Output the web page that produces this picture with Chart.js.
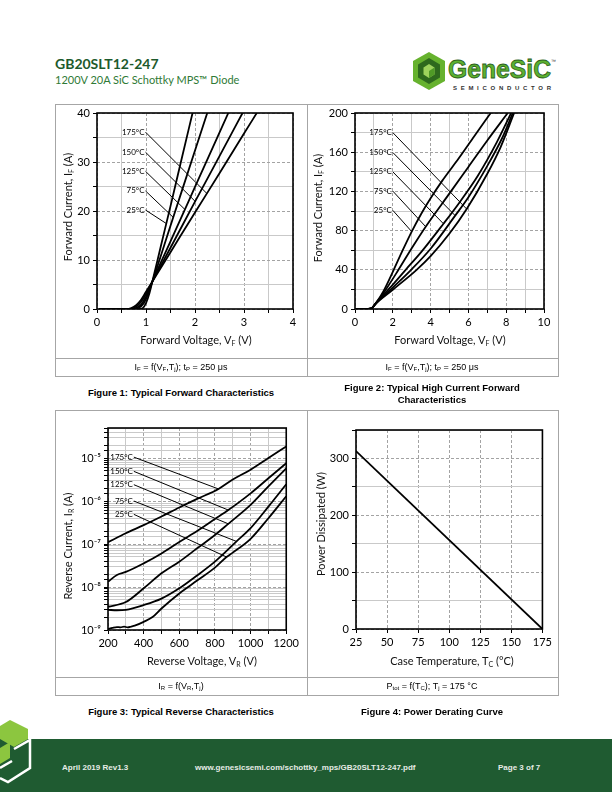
<!DOCTYPE html>
<html><head><meta charset="utf-8">
<script src="https://cdn.jsdelivr.net/npm/chart.js@4.4.1/dist/chart.umd.min.js"></script>
<style>
body{margin:0;width:612px;height:792px;position:relative;background:#fff;overflow:hidden;font-family:Lato,sans-serif}
canvas{position:absolute}
.ln{position:absolute;background:#a6a6a6}
.ax{position:absolute;font-family:Lato,sans-serif;font-size:11px;color:#111;white-space:nowrap;transform:translate(-50%,-50%)}
.rot{transform:translate(-50%,-50%) rotate(-90deg)}
.ax sub{font-size:7px;vertical-align:-2px}
.cap{position:absolute;font-family:"Liberation Sans",Arial,sans-serif;font-size:9.5px;font-weight:bold;text-align:center;transform:translateX(-50%);white-space:nowrap;line-height:12px;color:#000}
.fn{position:absolute;font-family:"Liberation Sans",Arial,sans-serif;font-size:9px;transform:translate(-50%,-50%);white-space:nowrap;color:#000}
.fn sub{font-size:6px;vertical-align:-1px}
.ft{position:absolute;font-family:"Liberation Sans",Arial,sans-serif;font-size:8px;font-weight:bold;color:#e6ece6;top:763px;white-space:nowrap}
</style></head><body>

<div style="position:absolute;left:55px;top:55px;font-family:Lato;font-weight:bold;font-size:14px;color:#1d5a2c">GB20SLT12-247</div>
<div style="position:absolute;left:55px;top:73px;font-family:Lato;font-size:11px;color:#2f7a36">1200V 20A SiC Schottky MPS™ Diode</div>

<svg style="position:absolute;left:412px;top:51px" width="148" height="42" viewBox="0 0 148 42">
  <polygon points="17,1 33,10 33,30 17,39 1,30 1,10" fill="#66b22e"/>
  <polygon points="17,7 28,13.5 28,26.5 17,33 6,26.5 6,13.5" fill="#2e6a1d"/>
  <polygon points="17,13 22.5,16.5 22.5,23.5 17,27 11.5,23.5 11.5,16.5" fill="#9dd35c"/>
  <polygon points="17,20 22.5,16.5 22.5,23.5 17,27" fill="#4f9a26"/>
  <text x="36" y="27" font-family="Liberation Sans" font-weight="bold" font-size="25" fill="#5cb130" stroke="#2b5f1d" stroke-width="0.8" textLength="103" lengthAdjust="spacingAndGlyphs">GeneSiC</text>
  <text x="139" y="12" font-family="Liberation Sans" font-size="5" fill="#333">™</text>
  <text x="41" y="39" font-family="Liberation Sans" font-weight="bold" font-size="6" fill="#333" textLength="98" lengthAdjust="spacing">SEMICONDUCTOR</text>
</svg>

<!-- table 1 -->
<div class="ln" style="left:55px;top:104px;width:503px;height:1px"></div>
<div class="ln" style="left:55px;top:358px;width:503px;height:1px"></div>
<div class="ln" style="left:55px;top:376px;width:503px;height:1px"></div>
<div class="ln" style="left:55px;top:104px;width:1px;height:273px"></div>
<div class="ln" style="left:307px;top:104px;width:1px;height:273px"></div>
<div class="ln" style="left:558px;top:104px;width:1px;height:273px"></div>
<!-- table 2 -->
<div class="ln" style="left:55px;top:410px;width:503px;height:1px"></div>
<div class="ln" style="left:55px;top:677px;width:503px;height:1px"></div>
<div class="ln" style="left:55px;top:695px;width:503px;height:1px"></div>
<div class="ln" style="left:55px;top:410px;width:1px;height:286px"></div>
<div class="ln" style="left:307px;top:410px;width:1px;height:286px"></div>
<div class="ln" style="left:558px;top:410px;width:1px;height:286px"></div>

<canvas id="c1"></canvas>
<canvas id="c2"></canvas>
<canvas id="c3"></canvas>
<canvas id="c4"></canvas>

<div class="ax" style="left:196px;top:340px">Forward Voltage, V<sub>F</sub> (V)</div>
<div class="ax rot" style="left:68px;top:207px">Forward Current, I<sub>F</sub> (A)</div>
<div class="ax" style="left:450px;top:340px">Forward Voltage, V<sub>F</sub> (V)</div>
<div class="ax rot" style="left:318px;top:208px">Forward Current, I<sub>F</sub> (A)</div>
<div class="ax" style="left:202px;top:661px">Reverse Voltage, V<sub>R</sub> (V)</div>
<div class="ax rot" style="left:68px;top:546px">Reverse Current, I<sub>R</sub> (A)</div>
<div class="ax" style="left:452px;top:661px">Case Temperature, T<sub>C</sub> (°C)</div>
<div class="ax rot" style="left:320px;top:524px">Power Dissipated (W)</div>

<div class="fn" style="left:181px;top:367px">I<sub>F</sub> = f(V<sub>F</sub>,T<sub>j</sub>); t<sub>P</sub> = 250 μs</div>
<div class="fn" style="left:432px;top:367px">I<sub>F</sub> = f(V<sub>F</sub>,T<sub>j</sub>); t<sub>P</sub> = 250 μs</div>
<div class="fn" style="left:181px;top:686px">I<sub>R</sub> = f(V<sub>R</sub>,T<sub>j</sub>)</div>
<div class="fn" style="left:432px;top:686px">P<sub>tot</sub> = f(T<sub>C</sub>); T<sub>j</sub> = 175 °C</div>

<div class="cap" style="left:181px;top:387px">Figure 1: Typical Forward Characteristics</div>
<div class="cap" style="left:432px;top:382px">Figure 2: Typical High Current Forward<br>Characteristics</div>
<div class="cap" style="left:181px;top:706px">Figure 3: Typical Reverse Characteristics</div>
<div class="cap" style="left:432px;top:706px">Figure 4: Power Derating Curve</div>

<div style="position:absolute;left:0;top:739px;width:612px;height:53px;background:#1f5b31"></div>
<svg style="position:absolute;left:0;top:712px" width="40" height="80">
  <polygon points="0,14 10,8 28,17 28,27 14,35 0,27" fill="#8cc63f"/>
  <polygon points="0,36 10,30 10,46 0,52" fill="#8cc63f"/>
  <polyline points="14,37 30,28 30,56 8,70 0,66" fill="none" stroke="#ffffff" stroke-width="2.5"/>
  <polyline points="0,56 12,49" fill="none" stroke="#ffffff" stroke-width="2.5"/>
</svg>
<div class="ft" style="left:62px">April 2019 Rev1.3</div>
<div class="ft" style="left:195px">www.genesicsemi.com/schottky_mps/GB20SLT12-247.pdf</div>
<div class="ft" style="left:498px">Page 3 of 7</div>

<script>
// ---------- Figure 1 data: forward voltage (V) / forward current (A) ----------
const f1_V25  = [0.05, 0.85, 0.93, 1.0, 1.07, 1.13, 1.3, 1.5, 1.7, 1.95];
const f1_I25  = [0, 0, 0.15, 1.2, 3.2, 5.6, 12.7, 21, 29.5, 40];
const f1_V75  = [0.05, 0.75, 0.85, 0.95, 1.05, 1.13, 1.5, 1.8, 2.25];
const f1_I75  = [0, 0, 0.2, 1.1, 3.3, 5.6, 17, 26.2, 40];
const f1_V125 = [0.05, 0.7, 0.8, 0.9, 1.0, 1.13, 1.5, 2.0, 2.68];
const f1_I125 = [0, 0, 0.2, 0.9, 2.5, 5.6, 13.8, 24.9, 40];
const f1_V150 = [0.05, 0.65, 0.75, 0.85, 0.95, 1.05, 1.13, 1.5, 2.0, 2.5, 2.97];
const f1_I150 = [0, 0, 0.2, 0.9, 2.2, 4.0, 5.6, 12.5, 21.9, 31.2, 40];
const f1_V175 = [0.05, 0.6, 0.7, 0.8, 0.9, 1.0, 1.13, 1.5, 2.0, 2.5, 3.0, 3.26];
const f1_I175 = [0, 0, 0.2, 0.8, 1.9, 3.5, 5.6, 11.6, 19.7, 27.7, 35.8, 40];
const tempLabels = ['175°C', '150°C', '125°C', '75°C', '25°C'];
const f1_leadV0 = [0.99, 0.99, 0.99, 0.99, 0.99];
const f1_leadI0 = [36.1, 32.0, 28.1, 24.1, 20.2];
const f1_leadV1 = [2.24, 2.0, 1.795, 1.556, 1.406];
const f1_leadI1 = [23.6, 22.0, 20.3, 18.7, 17.5];
const f1_xTicks = [0, 1, 2, 3, 4];
const f1_yTicks = [0, 10, 20, 30, 40];

// ---------- Figure 2 data ----------
const f2_V25  = [0.05, 0.7, 0.9, 1.06, 1.5, 2.05, 2.5, 3, 3.5, 4, 4.62, 5.5, 6.3, 7.18];
const f2_I25  = [0, 0, 1, 4.7, 18, 40, 59, 79, 97, 113, 131, 154, 176, 200];
const f2_V75  = [0.05, 0.7, 0.9, 1.06, 1.5, 2.3, 3, 3.74, 5, 6, 7, 8.08];
const f2_I75  = [0, 0, 1, 4.7, 16, 40, 62, 84, 118, 145, 172, 200];
const f2_V125 = [0.05, 0.7, 0.9, 1.06, 2, 2.68, 3.5, 4.68, 5.5, 6.5, 7.5, 8.26];
const f2_I125 = [0, 0, 1, 4.7, 24.9, 40, 58, 87, 108, 136, 170, 200];
const f2_V150 = [0.05, 0.7, 0.9, 1.06, 2, 2.97, 4, 5.3, 6, 7, 7.8, 8.35];
const f2_I150 = [0, 0, 1, 4.7, 21.9, 40, 61.5, 95.3, 114, 146, 175, 200];
const f2_V175 = [0.05, 0.7, 0.9, 1.06, 2, 3.26, 4, 5, 5.91, 7, 7.7, 8.42];
const f2_I175 = [0, 0, 1, 4.7, 19.7, 40, 54, 77, 102, 138, 165, 200];
const f2_leadV0 = [2, 2, 2, 2, 2];
const f2_leadI0 = [180, 159.7, 140, 120.3, 100.7];
const f2_leadV1 = [5.91, 5.3, 4.68, 3.74, 3.0];
const f2_leadI1 = [102, 95.3, 87, 84, 79];
const f2_xTicks = [0, 2, 4, 6, 8, 10];
const f2_yTicks = [0, 40, 80, 120, 160, 200];

// ---------- Figure 3 data: reverse voltage (V) / reverse current (A) ----------
const f3_V175 = [200, 300, 400, 500, 600, 700, 820, 900, 1000, 1100, 1200];
const f3_I175 = [1.10e-7, 1.78e-7, 2.75e-7, 4.37e-7, 7.08e-7, 1.12e-6, 1.91e-6, 3.16e-6, 5.37e-6, 1.0e-5, 1.86e-5];
const f3_V150 = [200, 250, 300, 400, 500, 600, 700, 800, 875, 1000, 1100, 1200];
const f3_I150 = [1.32e-8, 1.91e-8, 2.24e-8, 3.55e-8, 6.03e-8, 1.12e-7, 2.0e-7, 3.80e-7, 6.17e-7, 1.51e-6, 3.39e-6, 7.59e-6];
const f3_V125 = [200, 300, 400, 500, 600, 700, 800, 875, 1000, 1100, 1200];
const f3_I125 = [3.47e-9, 4.47e-9, 9.33e-9, 2.09e-8, 3.89e-8, 7.94e-8, 1.62e-7, 2.95e-7, 8.13e-7, 2.19e-6, 5.75e-6];
const f3_V75  = [200, 250, 300, 400, 500, 600, 700, 800, 921, 1000, 1100, 1200];
const f3_I75  = [2.95e-9, 2.88e-9, 2.95e-9, 3.80e-9, 5.37e-9, 9.33e-9, 1.86e-8, 3.89e-8, 1.15e-7, 2.34e-7, 7.41e-7, 2.45e-6];
const f3_V25  = [200, 225, 250, 270, 290, 310, 330, 350, 400, 450, 500, 600, 700, 800, 865, 900, 1000, 1100, 1200];
const f3_I25  = [1.05e-9, 1.12e-9, 1.17e-9, 1.15e-9, 1.20e-9, 1.15e-9, 1.20e-9, 1.26e-9, 1.55e-9, 2.0e-9, 3.16e-9, 7.08e-9, 1.41e-8, 2.82e-8, 5.01e-8, 6.31e-8, 1.32e-7, 3.98e-7, 1.29e-6];
const f3_leadV0 = [345, 345, 345, 345, 345];
const f3_leadI0 = [1.05e-5, 4.9e-6, 2.4e-6, 1.0e-6, 4.9e-7];
const f3_leadV1 = [820, 875, 875, 921, 865];
const f3_leadI1 = [1.91e-6, 6.17e-7, 2.95e-7, 1.15e-7, 5.0e-8];
const f3_xTicks = [200, 400, 600, 800, 1000, 1200];

// ---------- Figure 4 data: case temperature (°C) / power (W) ----------
const f4_T = [25, 175];
const f4_P = [313, 0];
const f4_xTicks = [25, 50, 75, 100, 125, 150, 175];
const f4_yTicks = [0, 100, 200, 300];

// ---------- helpers ----------
const FONT = {family: 'Lato', size: 11};
const pts = (xs, ys) => xs.map((x, i) => ({x: x, y: ys[i]}));
const curve = (xs, ys) => ({data: pts(xs, ys), borderColor: '#000', borderWidth: 1.8, pointRadius: 0,
  showLine: true, cubicInterpolationMode: 'monotone', fill: false});
const leaders = (v0, i0, v1, i1) => v0.map((v, k) => ({data: [{x: v, y: i0[k]}, {x: v1[k], y: i1[k]}],
  borderColor: '#000', borderWidth: 1, pointRadius: 0, showLine: true, tension: 0, fill: false}));
const near = (a, b) => Math.abs(a - b) < 1e-9 * Math.max(1, Math.abs(b));
const inList = (list) => (v) => list.some(t => near(v, t));
const SUP = {'-': '⁻', '0': '⁰', '1': '¹', '2': '²', '3': '³', '4': '⁴', '5': '⁵', '6': '⁶', '7': '⁷', '8': '⁸', '9': '⁹'};
const isDecade = (v) => { const l = Math.log10(v); return Math.abs(l - Math.round(l)) < 1e-6; };

function scale(type, min, max, step, isMajor, labelFn, dashAll) {
  const major = (c) => c.tick && (dashAll || isMajor(c.tick.value));
  return {
    type: type, min: min, max: max,
    ticks: {stepSize: step, autoSkip: false, maxRotation: 0, minRotation: 0, padding: 3, color: '#000',
      font: FONT, callback: (v) => labelFn(v)},
    grid: {color: (c) => major(c) ? '#a3a3a3' : '#c9c9c9', lineWidth: 1, tickColor: '#000',
      tickLength: 4, tickWidth: 1, drawTicks: true},
    border: {display: false, dash: (c) => major(c) ? [3, 2] : []}
  };
}

const framePlugin = {id: 'frame', afterDatasetsDraw(chart) {
  const a = chart.chartArea, ctx = chart.ctx;
  ctx.save(); ctx.strokeStyle = '#000'; ctx.lineWidth = 1.6;
  ctx.strokeRect(a.left, a.top, a.right - a.left, a.bottom - a.top); ctx.restore();
}};
const labelPlugin = {id: 'tempText', afterDatasetsDraw(chart, args, opts) {
  if (!opts || !opts.xs) return;
  const ctx = chart.ctx, sx = chart.scales.x, sy = chart.scales.y;
  ctx.save(); ctx.font = '8px Lato'; ctx.fillStyle = '#000'; ctx.textAlign = 'right'; ctx.textBaseline = 'middle';
  opts.texts.forEach((t, k) => ctx.fillText(t, sx.getPixelForValue(opts.xs[k]) - 1, sy.getPixelForValue(opts.ys[k])));
  ctx.restore();
}};

function make(id, box, plot, datasets, xs, ys, labels) {
  const c = document.getElementById(id);
  c.style.left = box.x + 'px'; c.style.top = box.y + 'px';
  c.width = box.w; c.height = box.h; c.style.width = box.w + 'px'; c.style.height = box.h + 'px';
  const yW = plot.l - box.x, xH = box.y + box.h - plot.b;
  xs.afterFit = (s) => { s.height = xH; };
  ys.afterFit = (s) => { s.width = yW; };
  return new Chart(c, {
    type: 'scatter',
    data: {datasets: datasets},
    options: {responsive: false, animation: false, devicePixelRatio: 1,
      layout: {padding: {left: 0, bottom: 0, top: plot.t - box.y, right: box.x + box.w - plot.r}},
      scales: {x: xs, y: ys},
      plugins: {legend: {display: false}, tooltip: {enabled: false}, tempText: labels}},
    plugins: [framePlugin, labelPlugin]
  });
}

// ---------- Figure 1 ----------
make('c1', {x: 60, y: 100, w: 245, h: 235}, {l: 97, t: 113, r: 293, b: 309},
  [curve(f1_V25, f1_I25), curve(f1_V75, f1_I75), curve(f1_V125, f1_I125), curve(f1_V150, f1_I150), curve(f1_V175, f1_I175)]
    .concat(leaders(f1_leadV0, f1_leadI0, f1_leadV1, f1_leadI1)),
  scale('linear', 0, 4, 0.5, inList(f1_xTicks), (v) => inList(f1_xTicks)(v) ? String(v) : ''),
  scale('linear', 0, 40, 5, inList(f1_yTicks), (v) => inList(f1_yTicks)(v) ? String(v) : ''),
  {texts: tempLabels, xs: f1_leadV0, ys: f1_leadI0});

// ---------- Figure 2 ----------
make('c2', {x: 315, y: 100, w: 240, h: 235}, {l: 355, t: 113, r: 544, b: 309},
  [curve(f2_V25, f2_I25), curve(f2_V75, f2_I75), curve(f2_V125, f2_I125), curve(f2_V150, f2_I150), curve(f2_V175, f2_I175)]
    .concat(leaders(f2_leadV0, f2_leadI0, f2_leadV1, f2_leadI1)),
  scale('linear', 0, 10, 1, inList(f2_xTicks), (v) => inList(f2_xTicks)(v) ? String(v) : ''),
  scale('linear', 0, 200, 20, inList(f2_yTicks), (v) => inList(f2_yTicks)(v) ? String(v) : ''),
  {texts: tempLabels, xs: f2_leadV0, ys: f2_leadI0});

// ---------- Figure 3 ----------
make('c3', {x: 62, y: 415, w: 240, h: 240}, {l: 108, t: 428, r: 289, b: 630},
  [curve(f3_V175, f3_I175), curve(f3_V150, f3_I150), curve(f3_V125, f3_I125), curve(f3_V75, f3_I75), curve(f3_V25, f3_I25)]
    .concat(leaders(f3_leadV0, f3_leadI0, f3_leadV1, f3_leadI1)),
  scale('linear', 200, 1200, 100, inList(f3_xTicks), (v) => inList(f3_xTicks)(v) ? String(v) : ''),
  scale('logarithmic', 1e-9, 5e-5, undefined, isDecade,
    (v) => isDecade(v) ? '10' + String(Math.round(Math.log10(v))).split('').map(ch => SUP[ch]).join('') : ''),
  {texts: tempLabels, xs: f3_leadV0, ys: f3_leadI0});

// ---------- Figure 4 ----------
make('c4', {x: 315, y: 415, w: 240, h: 240}, {l: 356, t: 430, r: 544, b: 629},
  [curve(f4_T, f4_P)],
  scale('linear', 25, 175, 25, inList(f4_xTicks), (v) => inList(f4_xTicks)(v) ? String(v) : '', true),
  scale('linear', 0, 350, 50, inList(f4_yTicks), (v) => inList(f4_yTicks)(v) ? String(v) : ''),
  null);
</script>
</body></html>
